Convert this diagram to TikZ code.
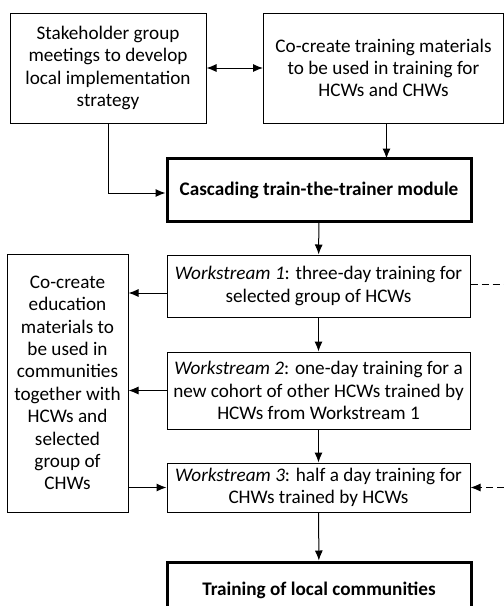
\documentclass[tikz,border=0pt]{standalone}
\usepackage{fontspec}
\setmainfont{Carlito}
\usetikzlibrary{arrows.meta}

\begin{document}
\begin{tikzpicture}[x=0.5pt,y=-0.5pt,
  font=\fontsize{9.6}{11.2}\selectfont,
  box/.style={draw,line width=0.5pt,align=center,inner sep=0pt},
  heavybox/.style={box,line width=1.5pt,font=\fontsize{9.6}{11.2}\selectfont\bfseries},
  arr/.style={-{Latex[length=5pt,width=4pt]},line width=0.5pt},
  feedback/.style={line width=0.5pt,dash pattern=on 3.5pt off 2pt}]
% Frame
\useasboundingbox (0,0) rectangle (504,606);
\clip (0,0) rectangle (504,606);
% Boxes
\node[box,minimum width=98pt,minimum height=55pt] (stake) at (108,68)
  {Stakeholder group\\meetings to develop\\local implementation\\strategy};
\node[box,minimum width=120pt,minimum height=55pt] (cocreate) at (383.5,68)
  {Co-create training materials\\to be used in training for\\HCWs and CHWs};
\node[heavybox,minimum width=152pt,minimum height=31.5pt] (cascade) at (319,190)
  {Cascading train-the-trainer module};
\node[box,minimum width=151.5pt,minimum height=31pt] (ws1) at (318.5,286)
  {\textit{Workstream 1}: three-day training for\\selected group of HCWs};
\node[box,minimum width=151.5pt,minimum height=38.5pt] (ws2) at (318.5,390.5)
  {\textit{Workstream 2}: one-day training for a\\new cohort of other HCWs trained by\\HCWs from Workstream 1};
\node[box,minimum width=151.5pt,minimum height=24.5pt] (ws3) at (318.5,487.5)
  {\textit{Workstream 3}: half a day training for\\CHWs trained by HCWs};
\node[heavybox,minimum width=152pt,minimum height=28pt] (local) at (319,590)
  {Training of local communities};
\node[box,minimum width=60.5pt,minimum height=129pt] (educ) at (67.5,383)
  {Co-create\\education\\materials to\\be used in\\communities\\together with\\HCWs and\\selected\\group of\\CHWs};
% Off-picture ends of the feedback line
\coordinate (fb1) at (504,284);
\coordinate (fb3) at (504,487.5);
% Connectors
\draw[arr,{Latex[length=5pt,width=4pt]}-{Latex[length=5pt,width=4pt]}] (stake) -- (cocreate);
\draw[arr] (cocreate.south -| cascade.north east) ++(-86,0) -- ++(0,35);
\draw[arr] (stake.south) |- ([yshift=-1.5pt]cascade.west);
\draw[arr] (cascade) -- (ws1);
\draw[arr] (ws1) -- (ws2);
\draw[arr] (ws2) -- (ws3);
\draw[arr] (ws3) -- (local);
\draw[arr] ([yshift=-3.5pt]ws1.west) -- ([yshift=-3.5pt]ws1.west -| educ.east);
\draw[arr] (ws2.west) -- (ws2.west -| educ.east);
\draw[arr] (educ.east |- ws3.west) -- (ws3.west);
\draw[feedback] (ws1.east |- fb1) -- (fb1);
\draw[feedback,arr] (fb3) -- (ws3.east);
\end{tikzpicture}
\end{document}
